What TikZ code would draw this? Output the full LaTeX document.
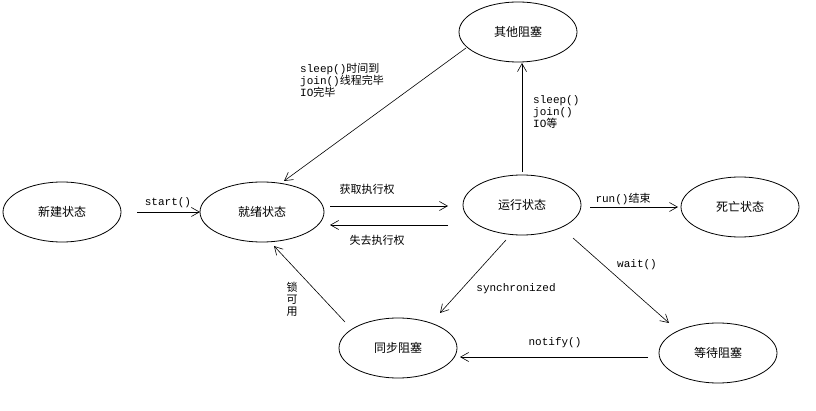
\documentclass[tikz,border=0pt]{standalone}
\usepackage{fontspec}
\setmainfont{Noto Sans CJK SC}
\setmonofont{Liberation Mono}
\newfontfamily\cjk{Noto Sans CJK SC}
\usetikzlibrary{shapes.geometric,arrows.meta}
\begin{document}
\begin{tikzpicture}[x=1pt,y=-1pt,
  st/.style={ellipse,draw,line width=0.8pt,minimum width=118pt,minimum height=60pt,font=\fontsize{12}{12}\selectfont},
  ar/.style={draw,line width=0.6pt,-{Straight Barb[length=8pt,width=9pt]}},
  lb/.style={font=\ttfamily\fontsize{11}{12}\selectfont,inner sep=1pt}]
\useasboundingbox (0,0) rectangle (816,411);
\node[st] (new) at (62,212) {新建状态};
\node[st,minimum width=124pt] (ready) at (262,212) {就绪状态};
\node[st] (run) at (522,205) {运行状态};
\node[st] (dead) at (740,207) {死亡状态};
\node[st] (other) at (518,32) {其他阻塞};
\node[st] (sync) at (398,348) {同步阻塞};
\node[st] (wait) at (718,353) {等待阻塞};
\coordinate (a1) at (137,212); \coordinate (a2) at (200,212);
\draw[ar] (a1) -- (a2);
\node[lb] (l1) at (168,203) {start()};
\coordinate (b1) at (330,206); \coordinate (b2) at (448,206);
\draw[ar] (b1) -- (b2);
\node[lb] (l2) at (367,189) {{\cjk 获取执行权}};
\coordinate (c1) at (448,225); \coordinate (c2) at (330,225);
\draw[ar] (c1) -- (c2);
\node[lb] (l3) at (377,240) {{\cjk 失去执行权}};
\coordinate (d1) at (590,207); \coordinate (d2) at (678,207);
\draw[ar] (d1) -- (d2);
\node[lb] (l4) at (623,199) {run(){\cjk 结束}};
\coordinate (e1) at (466,48); \coordinate (e2) at (284,181);
\draw[ar] (e1) -- (e2);
\node[lb,align=left,anchor=north west] (l5) at (299,62) {sleep(){\cjk 时间到}\\join(){\cjk 线程完毕}\\IO{\cjk 完毕}};
\coordinate (f1) at (522,172); \coordinate (f2) at (522,63);
\draw[ar] (f1) -- (f2);
\node[lb,align=left,anchor=north west] (l6) at (532,94) {sleep()\\join()\\IO{\cjk 等}};
\coordinate (g1) at (506,240); \coordinate (g2) at (440,313);
\draw[ar] (g1) -- (g2);
\node[lb] (l7) at (516,289) {synchronized};
\coordinate (h1) at (573,238); \coordinate (h2) at (669,323);
\draw[ar] (h1) -- (h2);
\node[lb] (l8) at (637,265) {wait()};
\coordinate (i1) at (648,357); \coordinate (i2) at (460,357);
\draw[ar] (i1) -- (i2);
\node[lb] (l9) at (555,343) {notify()};
\coordinate (j1) at (345,322); \coordinate (j2) at (274,246);
\draw[ar] (j1) -- (j2);
\node[lb,align=center] (l10) at (292,299) {{\cjk 锁}\\{\cjk 可}\\{\cjk 用}};
\end{tikzpicture}
\end{document}
